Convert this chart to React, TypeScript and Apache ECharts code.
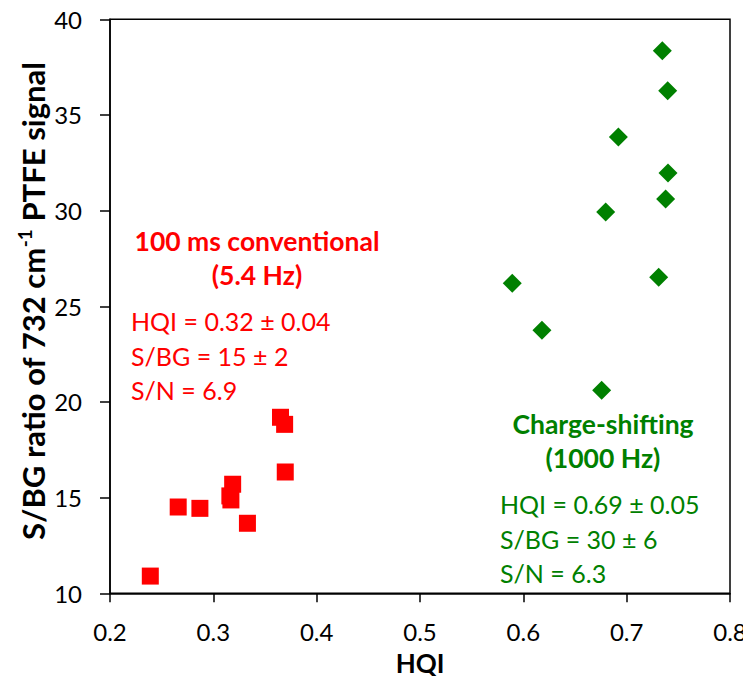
import React, { useEffect, useRef } from "react";
import * as echarts from "echarts";

const redHQI = [0.239, 0.266, 0.287, 0.3187, 0.316, 0.317, 0.333, 0.365, 0.369, 0.3696];
const redSBG = [10.9, 14.51, 14.44, 15.7, 15.09, 14.88, 13.66, 19.2, 18.83, 16.34];

const greenHQI = [0.7345, 0.7397, 0.692, 0.74, 0.7377, 0.6797, 0.5893, 0.731, 0.618, 0.6758];
const greenSBG = [38.35, 36.26, 33.85, 31.97, 30.61, 29.93, 26.2, 26.52, 23.75, 20.61];

const xTicks = [0.2, 0.3, 0.4, 0.5, 0.6, 0.7, 0.8];
const yTicks = [10, 15, 20, 25, 30, 35, 40];

const redTitle = ["100 ms conventional", "(5.4 Hz)"];
const redStats = ["HQI = 0.32 ± 0.04", "S/BG = 15 ± 2", "S/N = 6.9"];
const greenTitle = ["Charge-shifting", "(1000 Hz)"];
const greenStats = ["HQI = 0.69 ± 0.05", "S/BG = 30 ± 6", "S/N = 6.3"];
const yTitleParts = ["S/BG ratio of 732 cm", "-1", " PTFE signal"];

const FONT = "Lato, 'Open Sans', sans-serif";

export default function App() {
  const ref = useRef<HTMLDivElement>(null);
  useEffect(() => {
    if (!ref.current) return;
    const chart = echarts.init(ref.current, null, { renderer: "svg" });
    const txt = (s: string, x: number, y: number, color: string, bold: boolean, align: string) => ({
      type: "text",
      x,
      y,
      style: {
        text: s,
        fill: color,
        font: bold ? `bold 26.5px ${FONT}` : `25px ${FONT}`,
        textAlign: align,
        textVerticalAlign: "middle",
      },
    });
    const graphics: any[] = [];
    redTitle.forEach((s, i) => graphics.push(txt(s, 257, 241 + i * 34, "#FF0000", true, "center")));
    redStats.forEach((s, i) => graphics.push(txt(s, 131, 321 + i * 34.5, "#FF0000", false, "left")));
    greenTitle.forEach((s, i) => graphics.push(txt(s, 603, 424 + i * 34, "#008000", true, "center")));
    greenStats.forEach((s, i) => graphics.push(txt(s, 500, 504 + i * 34.5, "#008000", false, "left")));

    // Y-axis title laid out as three rotated pieces (main, superscript, main)
    const canvas = document.createElement("canvas");
    const ctx = canvas.getContext("2d") as CanvasRenderingContext2D;
    const mainFont = (s: number) => `bold ${s}px ${FONT}`;
    const supFont = (s: number) => `bold ${Math.round(s * 0.6)}px ${FONT}`;
    const measure = (s: number) => {
      ctx.font = mainFont(s);
      const w1 = ctx.measureText(yTitleParts[0]).width;
      const w3 = ctx.measureText(yTitleParts[2]).width;
      ctx.font = supFont(s);
      const w2 = ctx.measureText(yTitleParts[1]).width;
      return [w1, w2, w3];
    };
    const target = 478;
    let size = 30;
    const m0 = measure(size);
    size = Math.max(24, Math.min(33, (size * target) / (m0[0] + m0[1] + m0[2])));
    const [w1, w2, w3] = measure(size);
    const total = w1 + w2 + w3;
    const cx = 33;
    const cy = 301;
    const start = cy + total / 2;
    const rot = Math.PI / 2;
    graphics.push({
      type: "text", x: cx, y: start, rotation: rot,
      style: { text: yTitleParts[0], fill: "#000", font: mainFont(size), textAlign: "left", textVerticalAlign: "middle" },
    });
    graphics.push({
      type: "text", x: cx - size * 0.28, y: start - w1, rotation: rot,
      style: { text: yTitleParts[1], fill: "#000", font: supFont(size), textAlign: "left", textVerticalAlign: "middle" },
    });
    graphics.push({
      type: "text", x: cx, y: start - w1 - w2, rotation: rot,
      style: { text: yTitleParts[2], fill: "#000", font: mainFont(size), textAlign: "left", textVerticalAlign: "middle" },
    });

    chart.setOption({
      animation: false,
      backgroundColor: "#fff",
      grid: {
        left: 110,
        right: 21,
        top: 19.3,
        bottom: 90.7,
        show: true,
        borderColor: "#000",
        borderWidth: 1.5,
        backgroundColor: "transparent",
        containLabel: false,
        outerBoundsMode: "none",
      },
      xAxis: {
        type: "value",
        min: 0.2,
        max: 0.8,
        interval: 0.1,
        name: "HQI",
        nameLocation: "middle",
        nameGap: 57,
        nameTextStyle: { fontFamily: FONT, fontWeight: "bold", fontSize: 26, color: "#000" },
        axisLine: { lineStyle: { color: "#000", width: 1.5 } },
        axisTick: { show: true, length: 9, lineStyle: { color: "#000", width: 1.5 } },
        axisLabel: {
          fontFamily: FONT,
          fontSize: 24,
          color: "#000",
          margin: 26,
          formatter: (v: number) => {
            const t = xTicks.find((k) => Math.abs(k - v) < 1e-6);
            return t !== undefined ? t.toFixed(1) : "";
          },
        },
        splitLine: { show: false },
      },
      yAxis: {
        type: "value",
        min: 10,
        max: 40,
        interval: 5,
        axisLine: { lineStyle: { color: "#000", width: 1.5 } },
        axisTick: { show: true, length: 10, lineStyle: { color: "#000", width: 1.5 } },
        axisLabel: {
          fontFamily: FONT,
          fontSize: 24,
          color: "#000",
          margin: 28,
          formatter: (v: number) => (yTicks.includes(v) ? String(v) : ""),
        },
        splitLine: { show: false },
      },
      series: [
        {
          type: "scatter",
          symbol: "rect",
          symbolSize: 17,
          itemStyle: { color: "#FF0000", opacity: 1 },
          data: redHQI.map((x, i) => [x, redSBG[i]]),
        },
        {
          type: "scatter",
          symbol: "diamond",
          symbolSize: 19,
          itemStyle: { color: "#008000", opacity: 1 },
          data: greenHQI.map((x, i) => [x, greenSBG[i]]),
        },
      ],
      graphic: graphics,
    });
    return () => chart.dispose();
  }, []);
  return <div ref={ref} style={{ width: 751, height: 684, margin: -8 }} />;
}
